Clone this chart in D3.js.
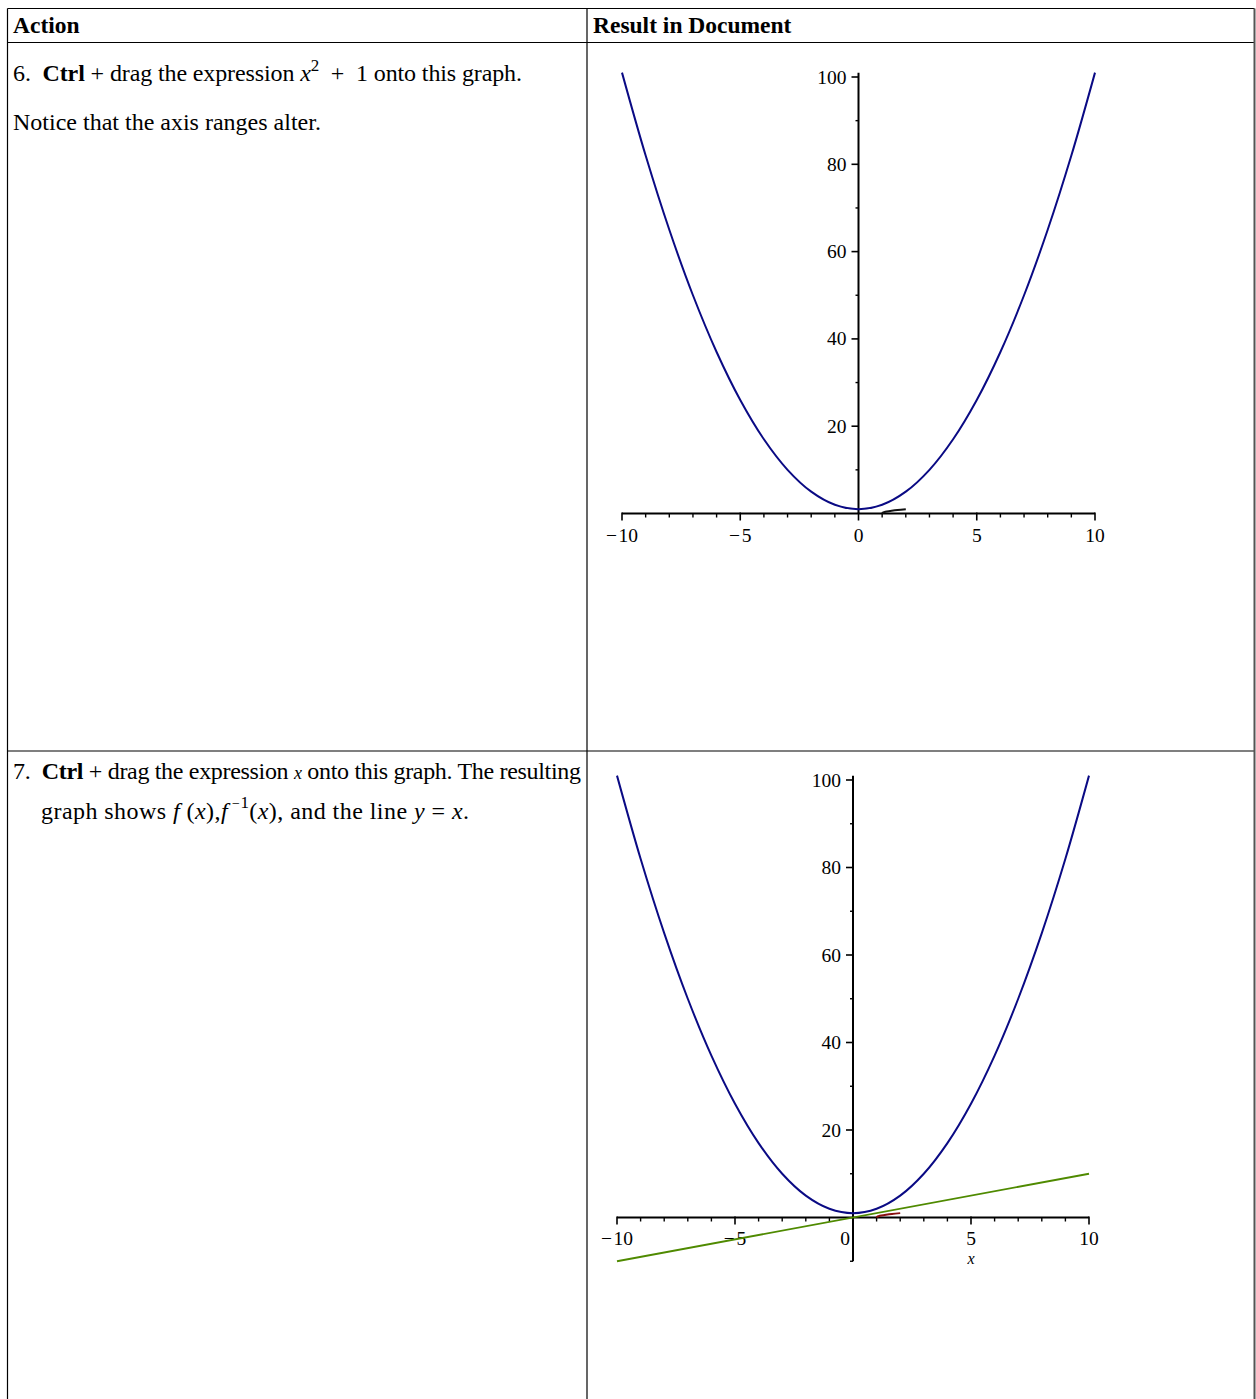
<!DOCTYPE html>
<html>
<head>
<meta charset="utf-8">
<script src="https://cdn.jsdelivr.net/npm/d3@7"></script>
<style>
  html, body { margin: 0; padding: 0; background: #fff; }
  svg { display: block; }
  text { font-family: "Liberation Serif", "Times New Roman", serif; fill: #000; }
</style>
</head>
<body>
<svg id="page" width="1256" height="1399"></svg>
<script>
// ---- data ----
const headers = ["Action", "Result in Document"];
// f(x) = x^2 + 1 read at each integer x
const parabolaX = [-10,-9,-8,-7,-6,-5,-4,-3,-2,-1,0,1,2,3,4,5,6,7,8,9,10];
const parabolaY = [101,82,65,50,37,26,17,10,5,2,1,2,5,10,17,26,37,50,65,82,101];
// f^-1 branch (short curve near the origin)
const inverseX = [1,1.02,1.08,1.2,1.4,1.65,2];
const inverseY = [0,0.14,0.28,0.45,0.63,0.81,1];
// y = x line
const lineX = [-10, 10];
const lineY = [-10, 10];
const xMajorTicks = [-10,-5,0,5,10];
const xMinorTicks = [-9,-8,-7,-6,-4,-3,-2,-1,1,2,3,4,6,7,8,9];
const yMajorTicks = [20,40,60,80,100];
const yMinorTicks = [10,30,50,70,90];
const xTickLabels = ["\u2212\u200A10","\u2212\u200A5","0","5","10"];

const svg = d3.select("#page");

// ---- table ----
const T = {left: 7.5, right: 1254.5, top: 8.5, headBottom: 42.5, colX: 587, row1Bottom: 751, bottom: 1399};
const grid = svg.append("g").attr("stroke", "#000").attr("stroke-width", 1.2).attr("fill", "none");
grid.append("line").attr("x1", T.left).attr("x2", T.right).attr("y1", T.top).attr("y2", T.top);
grid.append("line").attr("x1", T.left).attr("x2", T.right).attr("y1", T.headBottom).attr("y2", T.headBottom);
grid.append("line").attr("x1", T.left).attr("x2", T.right).attr("y1", T.row1Bottom).attr("y2", T.row1Bottom);
grid.append("line").attr("x1", T.left).attr("x2", T.left).attr("y1", T.top).attr("y2", T.bottom);
grid.append("line").attr("x1", T.colX).attr("x2", T.colX).attr("y1", T.top).attr("y2", T.bottom);
grid.append("line").attr("x1", T.right).attr("x2", T.right).attr("y1", T.top).attr("y2", T.bottom)
  .attr("stroke", "#555").attr("stroke-width", 2);

svg.append("text").attr("x", 13).attr("y", 33).attr("font-size", 23.5).attr("font-weight", "bold").text(headers[0]);
svg.append("text").attr("x", 593).attr("y", 33).attr("font-size", 23.5).attr("font-weight", "bold").text(headers[1]);

// ---- step text ----
function addRuns(x, y, runs, size) {
  const t = svg.append("text").attr("x", x).attr("y", y).attr("font-size", size).attr("xml:space", "preserve");
  runs.forEach(r => {
    const s = t.append("tspan").text(r.t);
    if (r.b) s.attr("font-weight", "bold");
    if (r.i) s.attr("font-style", "italic");
    if (r.fs) s.attr("font-size", r.fs);
    if (r.dy) s.attr("dy", r.dy);
  });
  return t;
}
addRuns(13, 81, [
  {t: "6.  "}, {t: "Ctrl", b: 1}, {t: " + drag the expression "}, {t: "x", i: 1},
  {t: "2", fs: 17, dy: -10}, {t: "  +  1 onto this graph.", dy: 10}
], 24).attr("textLength", 509).attr("lengthAdjust", "spacing");
addRuns(13, 130, [{t: "Notice that the axis ranges alter."}], 24);

addRuns(13, 779, [
  {t: "7.  "}, {t: "Ctrl", b: 1}, {t: " + drag the expression "}, {t: "x", i: 1, fs: 18},
  {t: " onto this graph. The resulting"}
], 24).attr("textLength", 568).attr("lengthAdjust", "spacing");
addRuns(41, 819, [
  {t: "graph shows "}, {t: "f", i: 1}, {t: " ("}, {t: "x", i: 1}, {t: "),"}, {t: "f", i: 1},
  {t: " \u2212", fs: 14, dy: -11}, {t: "1", fs: 17}, {t: "(", dy: 11}, {t: "x", i: 1},
  {t: "), and the line "}, {t: "y", i: 1}, {t: " = "}, {t: "x", i: 1}, {t: "."}
], 24).attr("textLength", 428).attr("lengthAdjust", "spacing");

// ---- plot helper ----
function drawPlot(cfg) {
  const x = d3.scaleLinear().domain([-10, 10]).range([cfg.x0, cfg.x1]);
  const y = d3.scaleLinear().domain([0, 100]).range([cfg.yZero, cfg.y100]);
  const g = svg.append("g");
  const line = (xs, ys, curve) => d3.line().x(d => x(d[0])).y(d => y(d[1])).curve(curve)(d3.zip(xs, ys));

  // x axis
  g.append("line").attr("x1", x(-10)).attr("x2", x(10)).attr("y1", y(0)).attr("y2", y(0))
    .attr("stroke", "#000").attr("stroke-width", 2);
  g.selectAll(".xmaj").data(xMajorTicks).join("line")
    .attr("x1", d => x(d)).attr("x2", d => x(d)).attr("y1", y(0) - 1).attr("y2", y(0) + 7)
    .attr("stroke", "#000").attr("stroke-width", 1.6);
  g.selectAll(".xmin").data(xMinorTicks).join("line")
    .attr("x1", d => x(d)).attr("x2", d => x(d)).attr("y1", y(0)).attr("y2", y(0) + 4)
    .attr("stroke", "#000").attr("stroke-width", 1.4);
  g.selectAll(".xlab").data(xMajorTicks).join("text")
    .attr("x", (d, i) => x(d) + (d === 0 ? cfg.zeroShift : 0))
    .attr("y", y(0) + cfg.labelOff).attr("text-anchor", "middle").attr("font-size", 19.5)
    .text((d, i) => xTickLabels[i]);

  // y axis
  g.append("line").attr("x1", x(0)).attr("x2", x(0)).attr("y1", y(cfg.yMin)).attr("y2", y(101))
    .attr("stroke", "#000").attr("stroke-width", 2);
  g.selectAll(".ymaj").data(yMajorTicks).join("line")
    .attr("x1", x(0) - 7).attr("x2", x(0)).attr("y1", d => y(d)).attr("y2", d => y(d))
    .attr("stroke", "#000").attr("stroke-width", 1.6);
  g.selectAll(".ymin").data(yMinorTicks).join("line")
    .attr("x1", x(0) - 3).attr("x2", x(0)).attr("y1", d => y(d)).attr("y2", d => y(d))
    .attr("stroke", "#000").attr("stroke-width", 1.4);
  if (cfg.yMin < 0) {
    g.append("line").attr("x1", x(0) - 3).attr("x2", x(0)).attr("y1", y(cfg.yMin)).attr("y2", y(cfg.yMin))
      .attr("stroke", "#000").attr("stroke-width", 1.4);
  }
  g.selectAll(".ylab").data(yMajorTicks).join("text")
    .attr("x", x(0) - 12).attr("y", d => y(d) + 6.5).attr("text-anchor", "end").attr("font-size", 19.5)
    .text(d => d);

  // curves
  if (cfg.showLine) {
    g.append("path").attr("d", line(lineX, lineY, d3.curveLinear))
      .attr("fill", "none").attr("stroke", "#4f8a00").attr("stroke-width", 1.8);
  }
  g.append("path").attr("d", line(parabolaX, parabolaY, d3.curveCatmullRom))
    .attr("fill", "none").attr("stroke", "#0a0a84").attr("stroke-width", 2);
  g.append("path").attr("d", line(inverseX, inverseY, d3.curveMonotoneY))
    .attr("fill", "none").attr("stroke", cfg.invColor).attr("stroke-width", 2);

  if (cfg.axisLabel) {
    g.append("text").attr("x", x(5)).attr("y", y(0) + 46).attr("text-anchor", "middle")
      .attr("font-size", 16).attr("font-style", "italic").text("x");
  }
}

drawPlot({x0: 622, x1: 1095, yZero: 513.5, y100: 77, yMin: 0, labelOff: 28.5, zeroShift: 0,
  invColor: "#111", showLine: false, axisLabel: false});
drawPlot({x0: 617, x1: 1089, yZero: 1217.5, y100: 780, yMin: -10, labelOff: 27, zeroShift: -8,
  invColor: "#8a1010", showLine: true, axisLabel: true});
</script>
</body>
</html>
